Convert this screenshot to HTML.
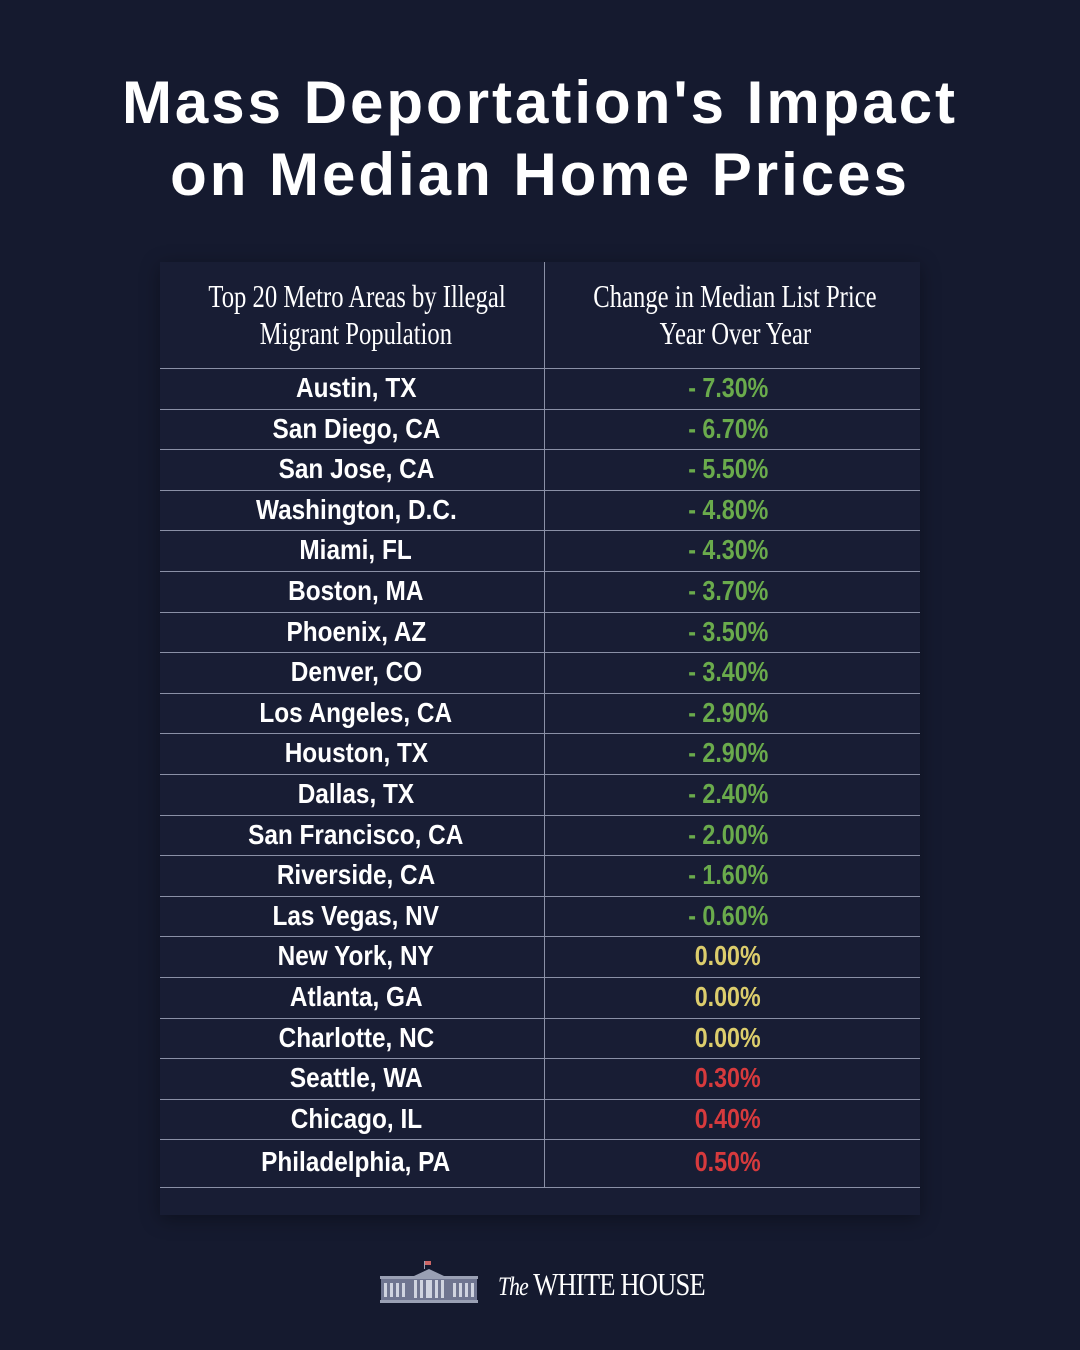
<!DOCTYPE html>
<html><head><meta charset="utf-8"><style>
body{margin:0;width:1080px;height:1350px;background:#151a2f;position:relative;overflow:hidden;font-family:"Liberation Sans",sans-serif}
.t{position:absolute;left:0;width:1080px;text-align:center;color:#fff;font-weight:bold;font-size:60px;letter-spacing:3px}
.tbl{position:absolute;left:160px;top:262px;width:760px;height:953px;background:#181d34;box-shadow:0 4px 18px rgba(0,0,0,.35)}
.vl{position:absolute;left:544px;top:262px;width:1px;height:925px;background:#8a90a6}
.hl{position:absolute;left:160px;width:760px;height:1px;background:#8a90a6}
.hd{position:absolute;top:278px;width:384px;text-align:center;color:#fff;font-family:"Liberation Serif",serif;font-size:32px;line-height:37px}
.hd span{display:inline-block;transform:scaleX(.77);white-space:nowrap}
.c{position:absolute;width:384px;text-align:center;font-weight:bold;font-size:28px;line-height:40px}
.c span{display:inline-block;transform:scaleX(.83);white-space:nowrap}
.n span{transform:scaleX(.87)}
.n{left:164px;color:#fff}
.v{left:536px}
.g{color:#6aab4c}.y{color:#dccd6c}.r{color:#d73a3d}
.wh{position:absolute;left:498px;top:1266px;color:#fff;font-family:"Liberation Serif",serif;font-size:32px;letter-spacing:-1px}
.wh span{display:inline-block;transform:scaleX(.83);transform-origin:left;white-space:nowrap}
</style></head><body>
<div class="t" style="top:68px">Mass Deportation's Impact</div>
<div class="t" style="top:140px">on Median Home Prices</div>
<div class="tbl"></div>
<div class="vl"></div>
<div class="hd" style="left:164px"><span>Top 20 Metro Areas by Illegal</span><br><span>Migrant Population</span></div>
<div class="hd" style="left:543px"><span>Change in Median List Price</span><br><span>Year Over Year</span></div>
<div id="rows"></div>
<script>
const d=[["Austin, TX","- 7.30%","g"],["San Diego, CA","- 6.70%","g"],["San Jose, CA","- 5.50%","g"],["Washington, D.C.","- 4.80%","g"],["Miami, FL","- 4.30%","g"],["Boston, MA","- 3.70%","g"],["Phoenix, AZ","- 3.50%","g"],["Denver, CO","- 3.40%","g"],["Los Angeles, CA","- 2.90%","g"],["Houston, TX","- 2.90%","g"],["Dallas, TX","- 2.40%","g"],["San Francisco, CA","- 2.00%","g"],["Riverside, CA","- 1.60%","g"],["Las Vegas, NV","- 0.60%","g"],["New York, NY","0.00%","y"],["Atlanta, GA","0.00%","y"],["Charlotte, NC","0.00%","y"],["Seattle, WA","0.30%","r"],["Chicago, IL","0.40%","r"],["Philadelphia, PA","0.50%","r"]];
let h="";
d.forEach((r,i)=>{let top=368+40.6*i;let ty=i==19?top+3:top;
h+=`<div class="hl" style="top:${Math.round(top)}px"></div>`;
h+=`<div class="c n" style="top:${Math.round(ty)}px"><span>${r[0]}</span></div><div class="c v ${r[2]}" style="top:${Math.round(ty)}px"><span>${r[1]}</span></div>`;});
h+=`<div class="hl" style="top:1187px"></div>`;
document.getElementById("rows").innerHTML=h;
</script>
<svg style="position:absolute;left:380px;top:1258px" width="98" height="48" viewBox="0 0 98 48">
<g fill="#9aa0b4">
<rect x="44" y="3" width="1" height="8"/><rect x="45" y="3" width="6" height="4" fill="#c66"/>
<polygon points="34,18 49,11 64,18"/>
<rect x="0" y="18" width="98" height="3"/>
<rect x="1" y="21" width="96" height="21" fill="#6f7590"/>
<rect x="0" y="42" width="98" height="3"/>
</g>
<g fill="#d0d4e0">
<rect x="4" y="25" width="3" height="14"/><rect x="10" y="25" width="3" height="14"/><rect x="16" y="25" width="3" height="14"/><rect x="22" y="25" width="3" height="14"/>
<rect x="34" y="22" width="3" height="18"/><rect x="40" y="22" width="3" height="18"/><rect x="46" y="22" width="6" height="18"/><rect x="55" y="22" width="3" height="18"/><rect x="61" y="22" width="3" height="18"/>
<rect x="73" y="25" width="3" height="14"/><rect x="79" y="25" width="3" height="14"/><rect x="85" y="25" width="3" height="14"/><rect x="91" y="25" width="3" height="14"/>
</g></svg>
<div class="wh"><span><i style="font-size:26px">The</i> WHITE HOUSE</span></div>
</body></html>
